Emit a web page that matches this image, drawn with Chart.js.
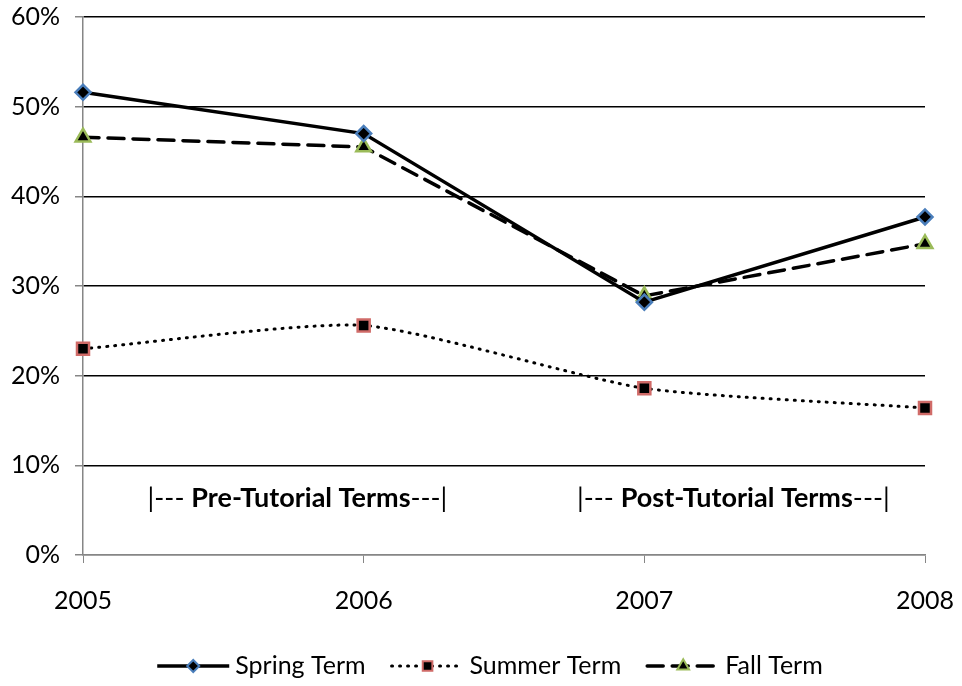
<!DOCTYPE html>
<html>
<head>
<meta charset="utf-8">
<script src="https://cdn.jsdelivr.net/npm/chart.js@4/dist/chart.umd.min.js"></script>
<style>
  body { margin: 0; background: #fff; }
  #wrap { width: 962px; height: 686px; }
</style>
</head>
<body>
<div id="wrap"><canvas id="termChart" width="962" height="686"></canvas></div>
<script>
const years = ["2005", "2006", "2007", "2008"];
const springTerm = [51.6, 47.0, 28.2, 37.7];
const summerTerm = [23.0, 25.6, 18.6, 16.4];
const fallTerm = [46.6, 45.5, 28.9, 34.7];
const yTicks = [0, 10, 20, 30, 40, 50, 60];
const notes = [
  { pre: "|--- ", bold: "Pre-Tutorial Terms", post: "---|", at: 0.23 },
  { pre: "|--- ", bold: "Post-Tutorial Terms", post: "---|", at: 1.76 },
];

const FONT = "Lato, 'Liberation Sans', sans-serif";

// text between the lines, placed with the chart scales
const notesPlugin = {
  id: "notes",
  afterDatasetsDraw(chart) {
    const ctx = chart.ctx;
    const x = chart.scales.x, y = chart.scales.y;
    const py = y.getPixelForValue(6.3);
    ctx.save();
    ctx.fillStyle = "#000";
    ctx.textBaseline = "middle";
    notes.forEach((n) => {
      let px = x.getPixelForValue(n.at);
      ctx.font = "27px " + FONT;
      ctx.fillText(n.pre, px, py);
      px += ctx.measureText(n.pre).width;
      ctx.font = "bold 27px " + FONT;
      ctx.fillText(n.bold, px, py);
      px += ctx.measureText(n.bold).width;
      ctx.font = "27px " + FONT;
      ctx.fillText(n.post, px, py);
    });
    ctx.restore();
  },
};

// legend with line sample + marker
const legendPlugin = {
  id: "lineLegend",
  afterDraw(chart) {
    const ctx = chart.ctx;
    const ly = 666;
    const sample = 72, gap = 6, spacing = 26;
    ctx.save();
    ctx.font = "25px " + FONT;
    const items = chart.data.datasets;
    let total = 0;
    items.forEach((d) => { total += sample + gap + ctx.measureText(d.label).width; });
    total += spacing * (items.length - 1);
    let px = 490 - total / 2;
    items.forEach((d) => {
      ctx.strokeStyle = "#000";
      ctx.lineWidth = d.borderWidth;
      ctx.lineCap = d.borderCapStyle || "butt";
      ctx.setLineDash(d.borderDash || []);
      ctx.beginPath();
      ctx.moveTo(px, ly);
      ctx.lineTo(px + sample, ly);
      ctx.stroke();
      ctx.setLineDash([]);
      ctx.fillStyle = d.pointBackgroundColor;
      ctx.strokeStyle = d.pointBorderColor;
      ctx.lineWidth = 2;
      Chart.helpers.drawPoint(ctx, {
        pointStyle: d.pointStyle,
        radius: d.pointRadius * 0.8,
        borderWidth: 2,
      }, px + sample / 2, ly);
      ctx.fillStyle = "#000";
      ctx.textBaseline = "middle";
      ctx.fillText(d.label, px + sample + gap, ly);
      px += sample + gap + ctx.measureText(d.label).width + spacing;
    });
    ctx.restore();
  },
};

const ctx = document.getElementById("termChart").getContext("2d");
const termChart = new Chart(ctx, {
  type: "line",
  data: {
    labels: years,
    datasets: [
      {
        label: "Spring Term",
        data: springTerm,
        borderColor: "#000",
        borderWidth: 3.5,
        pointStyle: "rectRot",
        pointRadius: 7.5,
        pointBackgroundColor: "#000",
        pointBorderColor: "#4a7ebb",
        pointBorderWidth: 2.5,
        tension: 0,
      },
      {
        label: "Summer Term",
        data: summerTerm,
        borderColor: "#000",
        borderWidth: 3,
        borderDash: [1, 7],
        borderCapStyle: "round",
        pointStyle: "rect",
        pointRadius: 8.5,
        pointBackgroundColor: "#000",
        pointBorderColor: "#d06b68",
        pointBorderWidth: 2.5,
        tension: 0.2,
      },
      {
        label: "Fall Term",
        data: fallTerm,
        borderColor: "#000",
        borderWidth: 3.5,
        borderDash: [16, 9],
        borderCapStyle: "round",
        pointStyle: "triangle",
        pointRadius: 8.5,
        pointBackgroundColor: "#000",
        pointBorderColor: "#9bbb59",
        pointBorderWidth: 2.5,
        tension: 0,
      },
    ],
  },
  options: {
    responsive: false,
    animation: false,
    layout: { padding: { top: 17, right: 37, left: 0, bottom: 0 } },
    scales: {
      x: {
        type: "category",
        offset: false,
        border: { color: "#868686", width: 1.5 },
        grid: {
          drawOnChartArea: false,
          drawTicks: true,
          tickLength: 8,
          tickColor: "#868686",
        },
        ticks: {
          color: "#000",
          font: { size: 25, family: FONT },
          padding: 23,
          maxRotation: 0,
        },
        afterFit(scale) {
          scale.height = 131;
          scale.paddingLeft = 0;
          scale.paddingRight = 0;
        },
      },
      y: {
        min: 0,
        max: 60,
        afterBuildTicks(scale) { scale.ticks = yTicks.map((v) => ({ value: v })); },
        border: { color: "#868686", width: 1.5 },
        grid: {
          color: (c) => (c.tick && c.tick.value === 0 ? "#868686" : "#000"),
          lineWidth: 1.5,
          tickLength: 8,
          tickColor: "#868686",
        },
        ticks: {
          color: "#000",
          font: { size: 25, family: FONT },
          padding: 15,
          callback: (v) => v + "%",
        },
        afterFit(scale) {
          scale.width = 83;
          scale.paddingTop = 0;
          scale.paddingBottom = 0;
        },
      },
    },
    plugins: {
      legend: { display: false },
      tooltip: { enabled: false },
    },
  },
  plugins: [notesPlugin, legendPlugin],
});
</script>
</body>
</html>
